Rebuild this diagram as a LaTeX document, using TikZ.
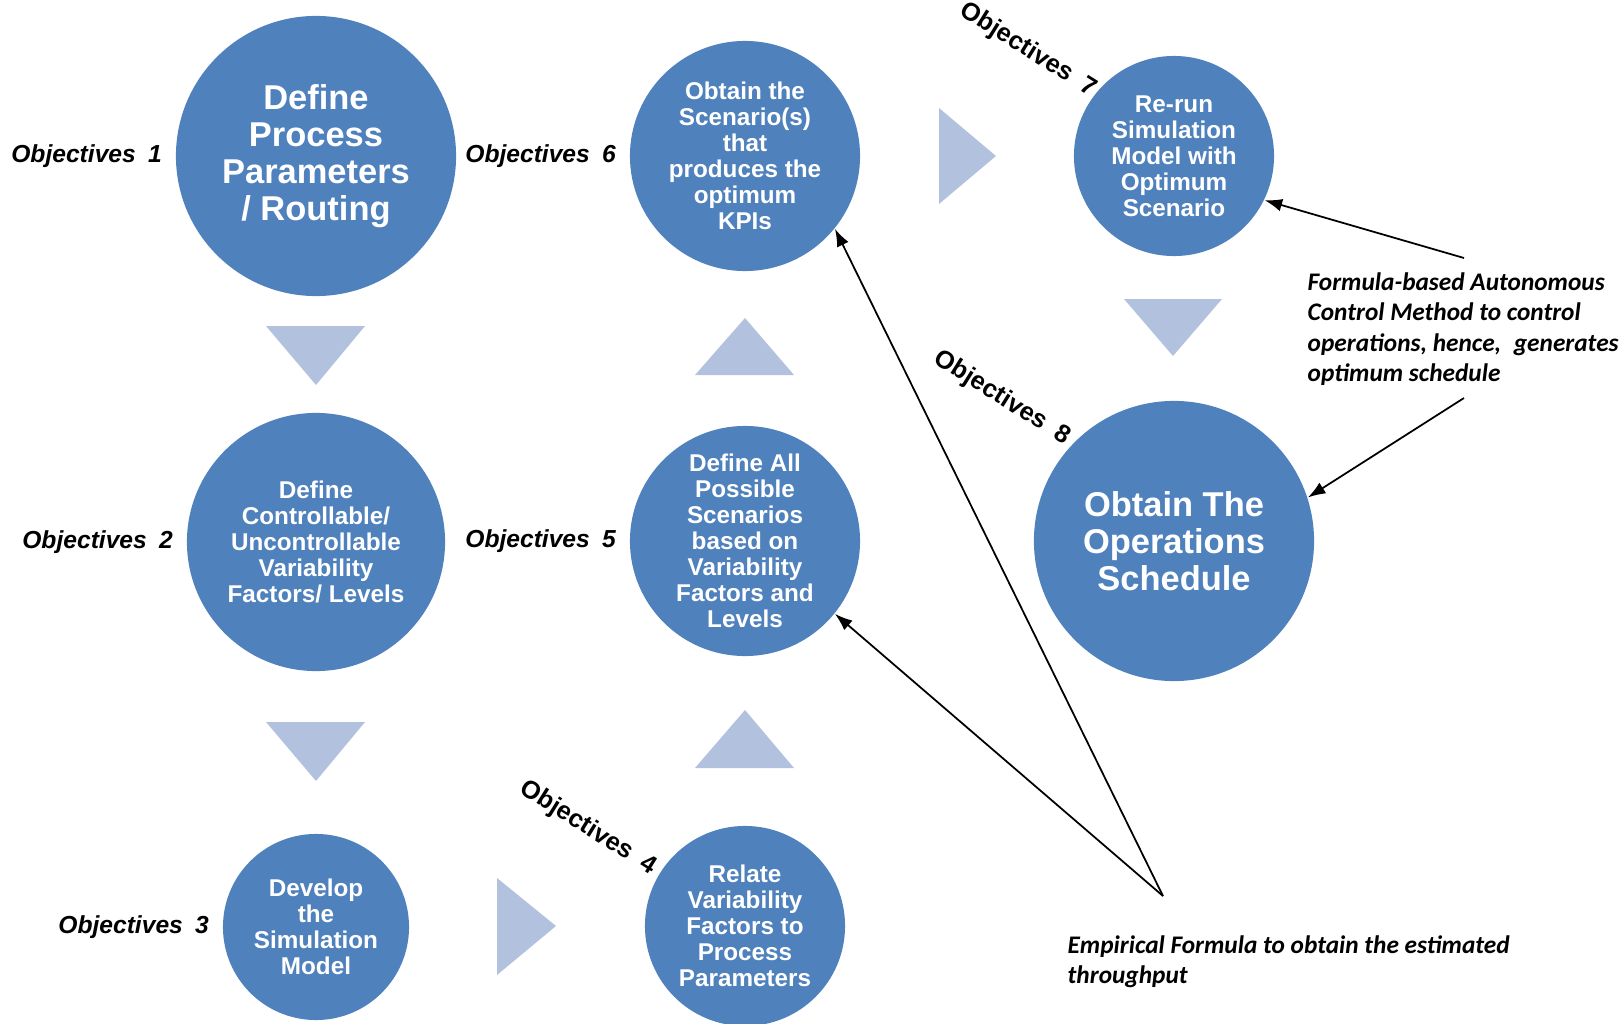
\documentclass[tikz,border=0pt]{standalone}
\usepackage{fontspec}
\setmainfont{Liberation Sans}
\newfontfamily\notefont{Carlito}
\usetikzlibrary{arrows.meta,positioning}
\definecolor{objblue}{RGB}{79,129,189}
\definecolor{triblue}{RGB}{178,193,222}

\begin{document}
\begin{tikzpicture}[
  x=0.01cm, y=-0.01cm,
  node distance=3.6pt,
  stage/.style={circle, fill=objblue, text=white, align=center, inner sep=0pt, font=\fontsize{6.9}{7.4}\selectfont\bfseries},
  bigstage/.style={stage, font=\fontsize{9.8}{10.5}\selectfont\bfseries},
  obj/.style={font=\fontsize{7}{8}\selectfont\bfseries\itshape, inner sep=0pt},
  objrot/.style={font=\fontsize{7.2}{8}\selectfont\bfseries, rotate=-32, inner sep=0pt},
  note/.style={font=\notefont\fontsize{7.2}{8.6}\selectfont\bfseries\itshape, align=left, anchor=west, inner sep=0pt},
  tri/.style={fill=triblue},
  pointer/.style={-{Latex[length=5pt,width=3.6pt]}, line width=0.5pt},
]
\useasboundingbox (0,0) rectangle (1623,1024);

% objectives
\node[bigstage, minimum size=2.8cm] (o1) at (316,156) {Define\\Process\\Parameters\\/ Routing};
\node[stage, minimum size=2.58cm] (o2) at (316,542) {Define\\Controllable/\\Uncontrollable\\Variability\\Factors/ Levels};
\node[stage, minimum size=1.86cm] (o3) at (316,927) {Develop\\the\\Simulation\\Model};
\node[stage, minimum size=2.0cm] (o4) at (745,926) {Relate\\Variability\\Factors to\\Process\\Parameters};
\node[stage, minimum size=2.3cm] (o5) at (745,541) {Define All\\Possible\\Scenarios\\based on\\Variability\\Factors and\\Levels};
\node[stage, minimum size=2.3cm] (o6) at (745,156) {Obtain the\\Scenario(s)\\that\\produces the\\optimum\\KPIs};
\node[stage, minimum size=2.0cm] (o7) at (1174,156) {Re-run\\Simulation\\Model with\\Optimum\\Scenario};
\node[bigstage, minimum size=2.8cm] (o8) at (1174,541) {Obtain The\\Operations\\Schedule};

% labels
\node[obj, left=of o1] (l1) {Objectives\enspace 1};
\node[obj, left=of o2] (l2) {Objectives\enspace 2};
\node[obj, left=of o3] (l3) {Objectives\enspace 3};
\node[obj, left=of o5] (l5) {Objectives\enspace 5};
\node[obj, left=of o6] (l6) {Objectives\enspace 6};
\node[objrot] (l4) at (588,828) {Objectives\enspace 4};
\node[objrot] (l7) at (1028,50) {Objectives\enspace 7};
\node[objrot] (l8) at (1002,398) {Objectives\enspace 8};

% flow triangles
\fill[tri] (266,326) -- (365,326) -- (316,385) -- cycle;
\fill[tri] (266,722) -- (365,722) -- (316,781) -- cycle;
\fill[tri] (497,878) -- (497,975) -- (556,926) -- cycle;
\fill[tri] (695,768) -- (794,768) -- (745,710) -- cycle;
\fill[tri] (695,375) -- (794,375) -- (745,318) -- cycle;
\fill[tri] (939,108) -- (939,204) -- (996,156) -- cycle;
\fill[tri] (1124,299) -- (1222,299) -- (1173,356) -- cycle;

% methods
\node[note] (ctrl) at (1307,329) {Formula-based Autonomous\\Control Method to control\\operations, hence,\enspace generates\\optimum schedule};
\node[note] (emp) at (1067,962) {Empirical Formula to obtain the estimated\\throughput};

\coordinate (ctrla) at (1464,258);
\coordinate (ctrlb) at (1464,398);
\coordinate (empa) at (1163,896);
\draw[pointer] (ctrla) -- (o7.-26);
\draw[pointer] (ctrlb) -- (o8.18);
\draw[pointer] (empa) -- (o5.-39);
\draw[pointer] (empa) -- (o6.-39);
\end{tikzpicture}
\end{document}
